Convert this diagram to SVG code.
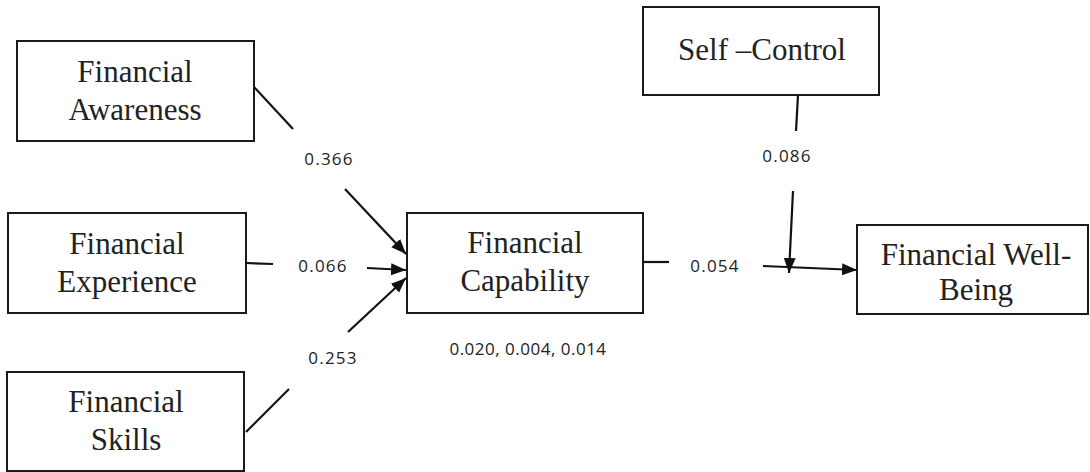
<svg xmlns="http://www.w3.org/2000/svg" width="1090" height="472" viewBox="0 0 1090 472">
<style>
.box{fill:#fff;stroke:#1a1a1a;stroke-width:2}
.nt{font-family:"Liberation Serif","Times New Roman",serif;font-size:31px;fill:#222;text-anchor:middle}
.lb{font-family:"Open Sans","Liberation Sans",sans-serif;font-size:17px;fill:#222;text-anchor:middle;letter-spacing:1.2px}
.lbl{letter-spacing:0.5px}
.ln{fill:none;stroke:#111;stroke-width:2.2}
</style>
<defs>
<marker id="ah" markerUnits="userSpaceOnUse" markerWidth="16" markerHeight="14" refX="15" refY="6" orient="auto">
<path d="M0,0 L15,6 L0,12 Z" fill="#111"/>
</marker>
</defs>
<rect width="1090" height="472" fill="#fff"/>
<g id="awareness"><rect class="box" x="17" y="41" width="237" height="100"/><text class="nt" x="135" y="82">Financial</text><text class="nt" x="135" y="120">Awareness</text></g>
<g id="experience"><rect class="box" x="8" y="213" width="238" height="100"/><text class="nt" x="127" y="254">Financial</text><text class="nt" x="127" y="292">Experience</text></g>
<g id="skills"><rect class="box" x="7" y="372" width="237" height="99"/><text class="nt" x="126" y="412">Financial</text><text class="nt" x="126" y="450">Skills</text></g>
<g id="capability"><rect class="box" x="407" y="213" width="236" height="100"/><text class="nt" x="525" y="253">Financial</text><text class="nt" x="525" y="291">Capability</text></g>
<g id="selfcontrol"><rect class="box" x="643" y="7" width="236" height="88"/><text class="nt" x="762" y="60">Self –Control</text></g>
<g id="wellbeing"><rect class="box" x="857" y="225" width="231" height="89"/><text class="nt" x="976" y="265">Financial Well-</text><text class="nt" x="976" y="300">Being</text></g>
<g id="connectors">
<path class="ln" d="M254,87 L293,129"/>
<path class="ln" d="M345,189 L406,254" marker-end="url(#ah)"/>
<path class="ln" d="M246,263 L273,264"/>
<path class="ln" d="M367,268 L406,270" marker-end="url(#ah)"/>
<path class="ln" d="M246,432 L289,389"/>
<path class="ln" d="M348,332 L406,278" marker-end="url(#ah)"/>
<path class="ln" d="M643,262 L669,262"/>
<path class="ln" d="M763,266 L857,270" marker-end="url(#ah)"/>
<path class="ln" d="M798,95 L796,131"/>
<path class="ln" d="M793,191 L789,273" marker-end="url(#ah)"/>
</g>
<g id="labels">
<text class="lb" x="329" y="165">0.366</text>
<text class="lb" x="323" y="272">0.066</text>
<text class="lb" x="333" y="364">0.253</text>
<text class="lb" x="787" y="162">0.086</text>
<text class="lb" x="715" y="272">0.054</text>
<text class="lb lbl" x="528" y="355">0.020, 0.004, 0.014</text>
</g>
</svg>
